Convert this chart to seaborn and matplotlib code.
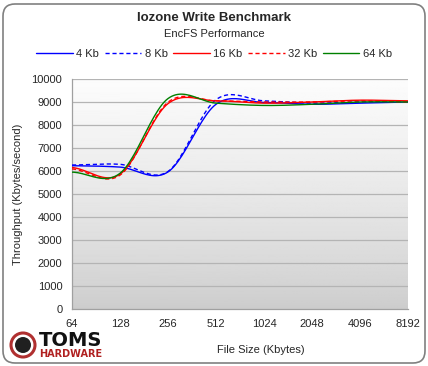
import numpy as np
import pandas as pd
import seaborn as sns
import matplotlib
matplotlib.use("Agg")
import matplotlib.pyplot as plt
from matplotlib.patches import FancyBboxPatch, Circle

# Data (Kbytes/second)
file_sizes = [64, 128, 256, 512, 1024, 2048, 4096, 8192]
rec_labels = ["4 Kb", "8 Kb", "16 Kb", "32 Kb", "64 Kb"]
tp_4kb = [6230, 6170, 5960, 8900, 8980, 8900, 8950, 9000]
tp_8kb = [6260, 6290, 5980, 9100, 9050, 8950, 9000, 9000]
tp_16kb = [6150, 5860, 8930, 9050, 8950, 9000, 9080, 9050]
tp_32kb = [6090, 5820, 8990, 9050, 9000, 9000, 9050, 9000]
tp_64kb = [5950, 5900, 9150, 8950, 8850, 8900, 9000, 9000]

colors = ["#0000ff", "#0000ff", "#ff0000", "#ff0000", "#008000"]
dashed = [False, True, False, True, False]


def smooth(xs, ys, n=24):
    """Excel-style smoothed line (Catmull-Rom in log2 space)."""
    lx = np.log2(xs)
    y = np.asarray(ys, dtype=float)
    p = np.concatenate([[y[0]], y, [y[-1]]])
    ox, oy = [], []
    for i in range(len(y) - 1):
        p0, p1, p2, p3 = p[i], p[i + 1], p[i + 2], p[i + 3]
        m1 = (p2 - p0) / 2
        m2 = (p3 - p1) / 2
        t = np.linspace(0, 1, n, endpoint=False)
        h00 = 2 * t**3 - 3 * t**2 + 1
        h10 = t**3 - 2 * t**2 + t
        h01 = -2 * t**3 + 3 * t**2
        h11 = t**3 - t**2
        oy.extend(h00 * p1 + h10 * m1 + h01 * p2 + h11 * m2)
        ox.extend(2 ** (lx[i] + t))
    ox.append(xs[-1])
    oy.append(y[-1])
    return np.array(ox), np.array(oy)


# Build a long table of smoothed curves for seaborn
frames = []
for lab, vals in zip(rec_labels, [tp_4kb, tp_8kb, tp_16kb, tp_32kb, tp_64kb]):
    sx, sy = smooth(file_sizes, vals)
    frames.append(pd.DataFrame({"size": sx, "tp": sy, "rec": lab}))
df = pd.concat(frames, ignore_index=True)

sns.set_style("white")
plt.rcParams["font.family"] = ["Liberation Sans", "DejaVu Sans"]

fig = plt.figure(figsize=(4.28, 3.66), dpi=100)
ax = fig.add_axes([72 / 428, 1 - 309 / 366, 336 / 428, 230 / 366])

# Gradient plot area background
tt = np.linspace(0, 1, 256).reshape(-1, 1)
grad = 0.80 + 0.19 * tt**0.8
ax.imshow(grad, extent=[64, 8192, 0, 10000], origin="lower", cmap="gray",
          vmin=0, vmax=1, aspect="auto", zorder=0)

for yv in range(1000, 10001, 1000):
    ax.axhline(yv, color="#b4b4b4", lw=0.9, zorder=1)

pal = dict(zip(rec_labels, colors))
dsh = {lab: ((3, 2) if d else "") for lab, d in zip(rec_labels, dashed)}
sns.lineplot(data=df, x="size", y="tp", hue="rec", style="rec",
             palette=pal, dashes=dsh, lw=1.0, sort=False,
             estimator=None, ax=ax, zorder=3)

ax.set_xscale("log", base=2)
ax.set_xlim(64, 8192)
ax.set_ylim(0, 10000)
ax.set_xticks(file_sizes)
ax.set_xticklabels([str(s) for s in file_sizes])
ax.set_yticks(range(0, 10001, 1000))
ax.set_yticks(range(0, 10001, 200), minor=True)
ax.tick_params(axis="both", which="major", labelsize=8, length=3,
               color="#a0a0a0", direction="out", pad=4)
ax.tick_params(axis="x", which="major", pad=4.5)
ax.tick_params(axis="y", which="minor", length=1.5, color="#b0b0b0")
ax.tick_params(axis="x", which="minor", length=0)
for s in ["top", "right"]:
    ax.spines[s].set_visible(False)
for s in ["left", "bottom"]:
    ax.spines[s].set_color("#a0a0a0")
    ax.spines[s].set_linewidth(0.9)
ax.set_xlabel("")
ax.set_ylabel("")

handles, labels = ax.get_legend_handles_labels()
ax.get_legend().remove()
fig.legend(handles, labels, loc="center", ncol=5, frameon=False,
           bbox_to_anchor=(0.5, 1 - 54 / 366), fontsize=8,
           handlelength=3.3, handletextpad=0.3, columnspacing=0.5)

fig.text(0.5, 1 - 18 / 366, "Iozone Write Benchmark", ha="center",
         va="center", fontsize=9.5, fontweight="bold")
fig.text(0.5, 1 - 34 / 366, "EncFS Performance", ha="center",
         va="center", fontsize=8)
fig.text(18 / 428, 1 - 194 / 366, "Throughput (Kbytes/second)",
         rotation=90, ha="center", va="center", fontsize=8)
fig.text(261 / 428, 1 - 350 / 366, "File Size (Kbytes)", ha="center",
         va="center", fontsize=8)

# Logo
fig.patches.append(Circle((23, 366 - 345), 12, transform=None,
                          fc="white", ec="#b03030", lw=2.2))
fig.patches.append(Circle((23, 366 - 345), 8, transform=None,
                          fc="#202020", ec="none"))
fig.text(71 / 428, 1 - 341 / 366, "TOMS", ha="center", va="center",
         fontsize=14, fontweight="bold", color="#111111",
         family="DejaVu Sans")
fig.text(71 / 428, 1 - 354 / 366, "HARDWARE", ha="center", va="center",
         fontsize=7, fontweight="bold", color="#b02020",
         family="DejaVu Sans")

# Rounded outer border
fig.patches.append(FancyBboxPatch((3, 3), 422, 359,
                                  boxstyle="round,pad=0,rounding_size=12",
                                  transform=None, fc="none", ec="#808080",
                                  lw=1.2))

fig.savefig("out.png", dpi=100)
